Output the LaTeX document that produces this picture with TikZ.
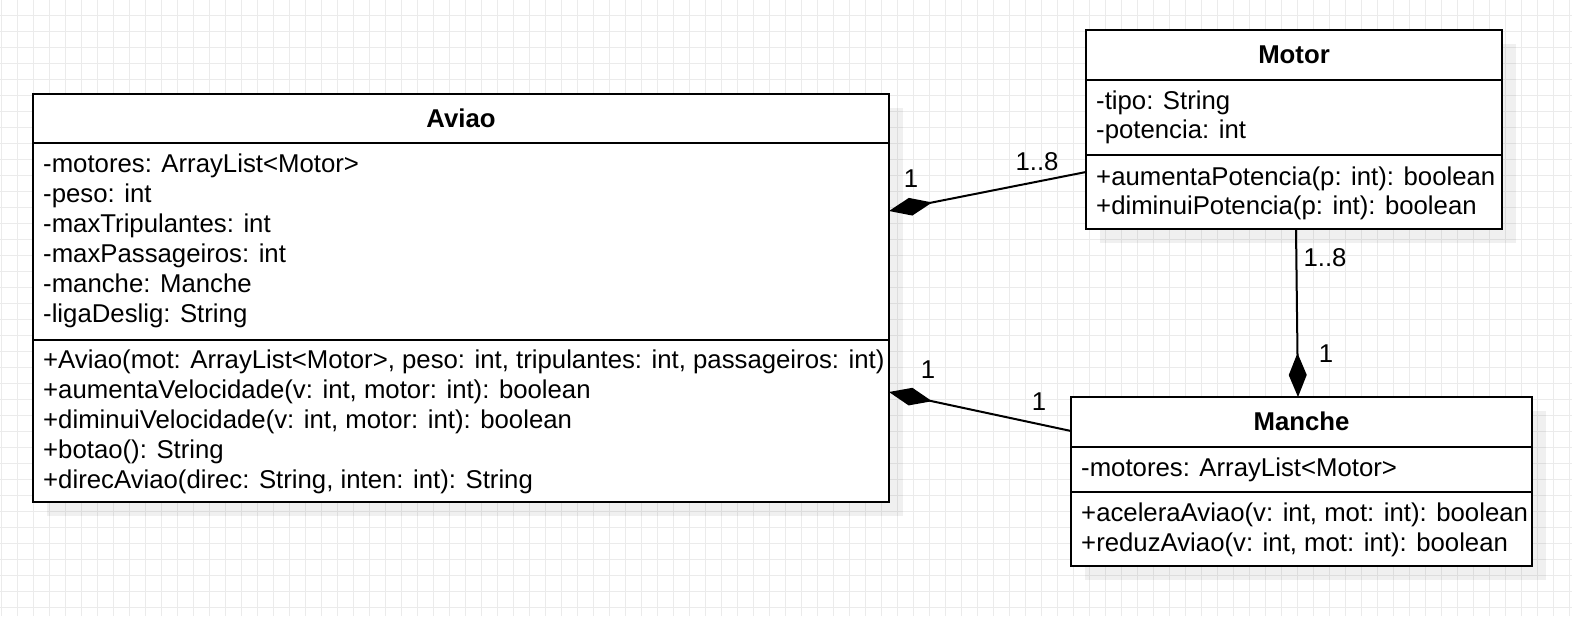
\documentclass[tikz,border=0pt]{standalone}
\usepackage{fontspec}
\setmainfont{Liberation Sans}
\usetikzlibrary{arrows.meta}
\definecolor{gridc}{HTML}{EBEBEB}
\begin{document}
\begin{tikzpicture}[x=1pt,y=-1pt,
  txt/.style={inner sep=0pt, anchor=base west, font=\fontsize{25.75}{30}\selectfont},
  ttl/.style={inner sep=0pt, anchor=base, font=\fontsize{25.75}{30}\selectfont\bfseries},
  lbl/.style={inner sep=0pt, font=\fontsize{25.75}{30}\selectfont},
  classbox/.style={draw=black, line width=2pt, fill=white, inner sep=0pt, outer sep=0pt, anchor=north west},
  sepline/.style={line width=2pt},
  shadowc/.style={fill=black, opacity=0.06},
  comp/.style={line width=2pt, -{Diamond[length=44pt,width=18pt]}},
  gridline/.style={draw=gridc, line width=1pt}]
\fill[white] (0,0) rectangle (1572,616);
\useasboundingbox (0,0) rectangle (1572,616);
\foreach \x in {1,17,...,1572} \draw[gridline] (\x,0) -- (\x,616);
\foreach \y in {15,31,...,616} \draw[gridline] (0,\y) -- (1572,\y);

% shadows
\fill[shadowc] (47,108) rectangle (903,516);
\fill[shadowc] (1100,44) rectangle (1516,243);
\fill[shadowc] (1085,411) rectangle (1546,580);

% class boxes
\node[classbox, minimum width=856pt, minimum height=408pt] (aviao) at (33,94) {};
\node[classbox, minimum width=416pt, minimum height=199pt] (motor) at (1086,30) {};
\node[classbox, minimum width=461pt, minimum height=169pt] (manche) at (1071,397) {};

% separators
\draw[sepline] (aviao.west |- 0,143) -- (aviao.east |- 0,143);
\draw[sepline] (aviao.west |- 0,340) -- (aviao.east |- 0,340);
\draw[sepline] (motor.west |- 0,80) -- (motor.east |- 0,80);
\draw[sepline] (motor.west |- 0,155) -- (motor.east |- 0,155);
\draw[sepline] (manche.west |- 0,447) -- (manche.east |- 0,447);
\draw[sepline] (manche.west |- 0,492) -- (manche.east |- 0,492);

% Aviao text
\node[ttl] (avt) at (461,127) {Aviao};
\node[txt] (av1) at (43,172) {-motores: ArrayList<Motor>};
\node[txt] (av2) at (43,202) {-peso: int};
\node[txt] (av3) at (43,232) {-maxTripulantes: int};
\node[txt] (av4) at (43,262) {-maxPassageiros: int};
\node[txt] (av5) at (43,292) {-manche: Manche};
\node[txt] (av6) at (43,322) {-ligaDeslig: String};
\node[txt] (avm1) at (43,368) {+Aviao(mot: ArrayList<Motor>, peso: int, tripulantes: int, passageiros: int)};
\node[txt] (avm2) at (43,398) {+aumentaVelocidade(v: int, motor: int): boolean};
\node[txt] (avm3) at (43,428) {+diminuiVelocidade(v: int, motor: int): boolean};
\node[txt] (avm4) at (43,458) {+botao(): String};
\node[txt] (avm5) at (43,488) {+direcAviao(direc: String, inten: int): String};

% Motor text
\node[ttl] (mot) at (1294,63) {Motor};
\node[txt] (mo1) at (1096,109) {-tipo: String};
\node[txt] (mo2) at (1096,138) {-potencia: int};
\node[txt] (mom1) at (1096,185) {+aumentaPotencia(p: int): boolean};
\node[txt] (mom2) at (1096,214) {+diminuiPotencia(p: int): boolean};

% Manche text
\node[ttl] (mat) at (1301.5,430) {Manche};
\node[txt] (ma1) at (1081,476) {-motores: ArrayList<Motor>};
\node[txt] (mam1) at (1081,521) {+aceleraAviao(v: int, mot: int): boolean};
\node[txt] (mam2) at (1081,551) {+reduzAviao(v: int, mot: int): boolean};

% connectors
\draw[comp] (motor.west |- 0,172) -- (aviao.east |- 0,211);
\draw[comp] (manche.west |- 0,431) -- (aviao.east |- 0,392);
\draw[comp] (motor.south -| 1296,0) -- (manche.north -| 1298,0);

% multiplicities
\node[lbl] (l1) at (911,179) {1};
\node[lbl] (l2) at (1037,162) {1..8};
\node[lbl] (l3) at (928,370) {1};
\node[lbl] (l4) at (1039,402) {1};
\node[lbl] (l5) at (1325,258) {1..8};
\node[lbl] (l6) at (1326,354) {1};
\end{tikzpicture}
\end{document}
